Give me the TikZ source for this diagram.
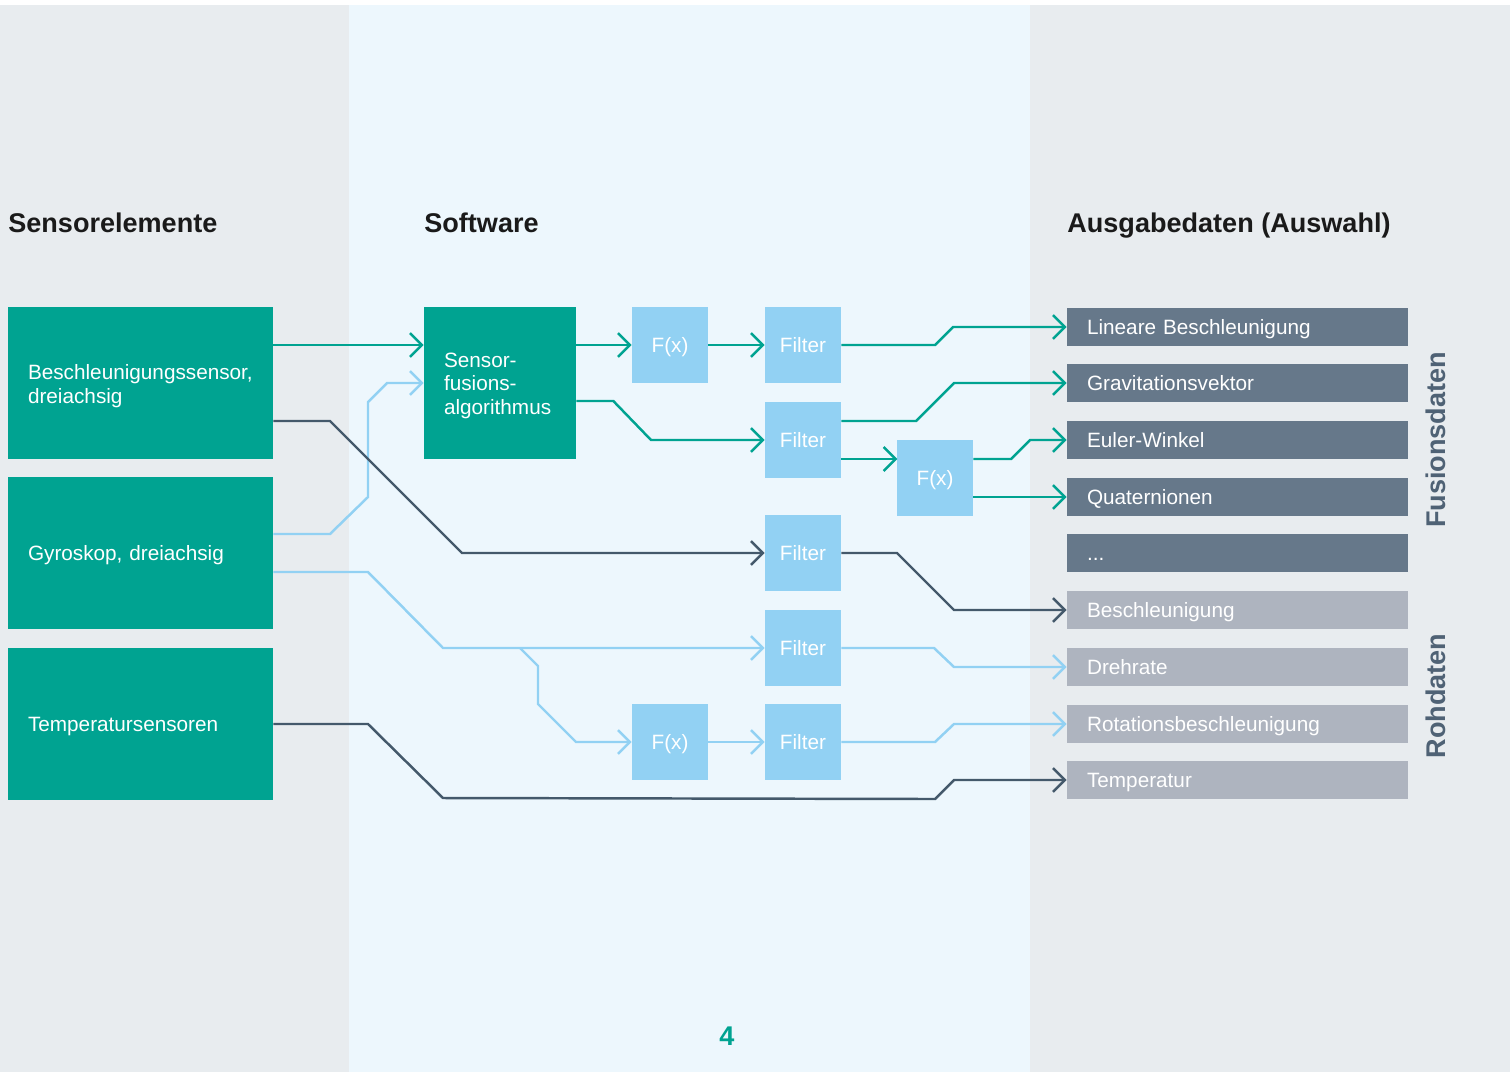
\documentclass[tikz,border=0pt]{standalone}
\usepackage{fontspec}
\setmainfont{Liberation Sans}
\usetikzlibrary{arrows.meta}

\definecolor{sensgreen}{RGB}{0,163,145}
\definecolor{filterblue}{RGB}{146,209,243}
\definecolor{slateline}{RGB}{68,89,107}
\definecolor{fusgray}{RGB}{102,120,138}
\definecolor{rawgray}{RGB}{174,180,191}
\definecolor{panelgray}{RGB}{232,236,239}
\definecolor{panelblue}{RGB}{237,247,253}
\definecolor{headblack}{RGB}{26,26,26}
\definecolor{sideslate}{RGB}{79,98,117}

\newcommand{\bodyfont}{\fontsize{11.8}{13.6}\selectfont}
\newcommand{\headfont}{\fontsize{15.4}{18}\selectfont\bfseries}

\tikzset{
  sensbox/.style={fill=sensgreen, text=white, text width=4.5cm, inner xsep=0.4cm,
    minimum height=3.04cm, align=left, font=\bodyfont, text depth=0pt},
  fusbox/.style={sensbox, text width=2.24cm},
  fbox/.style={fill=filterblue, text=white, minimum size=1.52cm, inner sep=0pt,
    font=\bodyfont, text height=0.9em, text depth=0pt},
  outbox/.style={text=white, text width=6.02cm, inner xsep=0.4cm, inner ysep=0pt,
    minimum height=0.76cm, align=left, font=\bodyfont, text height=0.9em, text depth=0pt},
  fusout/.style={outbox, fill=fusgray},
  rawout/.style={outbox, fill=rawgray},
  heading/.style={anchor=base west, inner sep=0pt, text=headblack, font=\headfont},
  sidelabel/.style={rotate=90, inner sep=0pt, text=sideslate, font=\headfont},
  conn/.style={line width=1.4pt, -{Straight Barb[length=6.8pt,width=13.6pt]}},
  tealline/.style={conn, draw=sensgreen},
  slatelinestyle/.style={conn, draw=slateline},
  blueline/.style={conn, draw=filterblue}
}

\begin{document}
\begin{tikzpicture}[x=0.02cm, y=-0.02cm]
  % panels
  \fill[white] (0,0) rectangle (1510,1072);
  \fill[panelgray] (0,5) rectangle (349,1072);
  \fill[panelblue] (349,5) rectangle (1030,1072);
  \fill[panelgray] (1030,5) rectangle (1510,1072);
  \useasboundingbox (0,0) rectangle (1510,1072);

  % headings
  \node[heading] (hsens) at (8,232) {Sensorelemente};
  \node[heading] (hsoft) at (424,232) {Software};
  \node[heading] (hout) at (1067,232) {Ausgabedaten (Auswahl)};

  % sensors
  \node[sensbox, text depth=0.45cm] (acc) at (140.5,383) {Beschleunigungssensor,\\dreiachsig};
  \node[sensbox] (gyro) at (140.5,553) {Gyroskop, dreiachsig};
  \node[sensbox] (temp) at (140.5,724) {Temperatursensoren};

  % software
  \node[fusbox, text depth=0.93cm] (fus) at (500,383) {Sensor-\\fusions-\\algorithmus};
  \node[fbox] (fx1) at (670,345) {F(x)};
  \node[fbox] (filt1) at (803,345) {Filter};
  \node[fbox] (filt2) at (803,440) {Filter};
  \node[fbox] (fx2) at (935,478) {F(x)};
  \node[fbox] (filt3) at (803,553) {Filter};
  \node[fbox] (filt4) at (803,648) {Filter};
  \node[fbox] (fx3) at (670,742) {F(x)};
  \node[fbox] (filt5) at (803,742) {Filter};

  % outputs
  \node[fusout] (lin) at (1237.5,327) {Lineare Beschleunigung};
  \node[fusout] (grav) at (1237.5,383) {Gravitationsvektor};
  \node[fusout] (euler) at (1237.5,440) {Euler-Winkel};
  \node[fusout] (quat) at (1237.5,497) {Quaternionen};
  \node[fusout] (more) at (1237.5,553) {...};
  \node[rawout] (besch) at (1237.5,610) {Beschleunigung};
  \node[rawout] (dreh) at (1237.5,667) {Drehrate};
  \node[rawout] (rot) at (1237.5,724) {Rotationsbeschleunigung};
  \node[rawout] (tempout) at (1237.5,780) {Temperatur};

  \node[sidelabel] (fuslab) at (1436,440) {Fusionsdaten};
  \node[sidelabel] (rohlab) at (1436,696) {Rohdaten};

  \node[font=\headfont, text=sensgreen] (page) at (727,1036) {4};

  % light blue connectors
  \draw[blueline] (gyro.east) ++(0,-19) -- (330,534) -- (368,497) -- (368,402) -- (387,383) -- (fus.west);
  \draw[blueline] (gyro.east) ++(0,19) -- (368,572) -- (443,648) -- (filt4.west);
  \coordinate (split) at (520,648);
  \draw[blueline] (split) -- (538,666) -- (538,704) -- (576,742) -- (fx3.west);
  \draw[blueline] (fx3.east) -- (filt5.west);
  \draw[blueline] (filt4.east) -- (934,648) -- (954,667) -- (dreh.west);
  \draw[blueline] (filt5.east) -- (935,742) -- (954,724) -- (rot.west);

  % slate connectors
  \draw[slatelinestyle] (acc.east) ++(0,38) -- (330,421) -- (462,553) -- (filt3.west);
  \draw[slatelinestyle] (filt3.east) -- (897,553) -- (954,610) -- (besch.west);
  \draw[slatelinestyle] (temp.east) -- (368,724) -- (443,798) -- (935,799) -- (954,780) -- (tempout.west);

  % teal connectors
  \draw[tealline] (acc.east |- fx1) -- (fus.west |- fx1);
  \draw[tealline] (fus.east |- fx1) -- (fx1.west);
  \draw[tealline] (fx1.east) -- (filt1.west);
  \draw[tealline] (filt1.east) -- (935,345) -- (953,327) -- (lin.west);
  \draw[tealline] (fus.east) ++(0,18) -- ++(37,0) -- (651,440) -- (filt2.west);
  \draw[tealline] (filt2.east) ++(0,-19) -- (916,421) -- (954,383) -- (grav.west);
  \draw[tealline] (filt2.east) ++(0,19) -- ++(56,0);
  \draw[tealline] (fx2.east) ++(0,-19) -- (1011,459) -- (1030,440) -- (euler.west);
  \draw[tealline] (fx2.east) ++(0,19) -- (quat.west);
\end{tikzpicture}
\end{document}
